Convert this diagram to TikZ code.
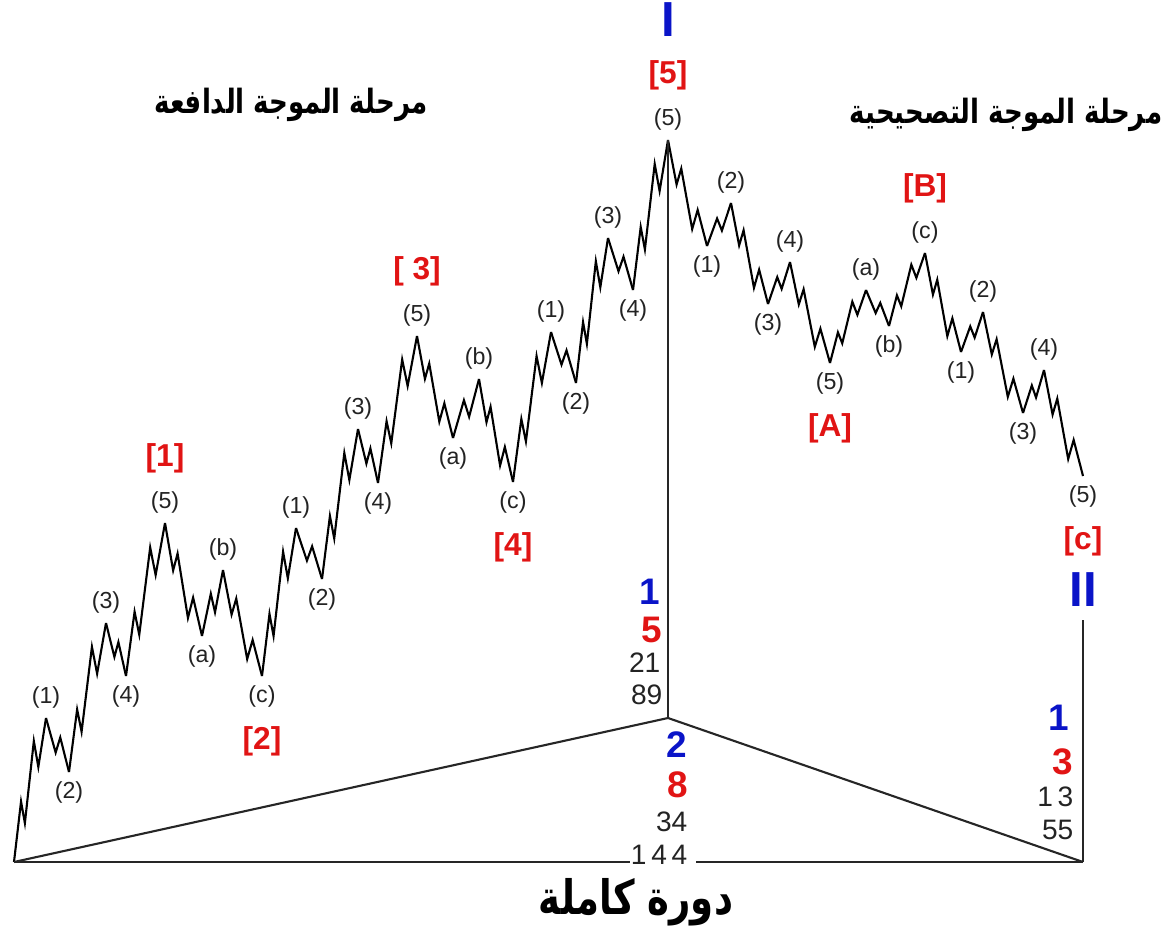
\documentclass[tikz,border=0pt]{standalone}
\usepackage{fontspec}
\setmainfont{Liberation Sans}
\newfontfamily\arabicfont[Script=Arabic,FakeStretch=0.78]{DejaVu Sans}
\TeXXeTstate=1
\usetikzlibrary{positioning,calc}
\definecolor{WaveRed}{RGB}{225,20,20}
\definecolor{WaveBlue}{RGB}{10,20,200}
\definecolor{WaveGray}{RGB}{35,35,35}
\tikzset{>=latex}
\tikzset{mysub/.style={inner sep=0.5pt,text=WaveGray,font=\fontsize{6.6}{8}\selectfont}}
\tikzset{mymain/.style={inner sep=0.5pt,text=WaveRed,font=\fontsize{9}{11}\selectfont\bfseries}}
\tikzset{mydegree/.style={inner sep=0pt,text=WaveBlue,font=\fontsize{14}{16}\selectfont\bfseries}}
\tikzset{myfib/.style={inner sep=0pt,anchor=east,text=WaveGray,font=\fontsize{8}{9}\selectfont}}
\tikzset{myfibred/.style={myfib,text=WaveRed,font=\fontsize{10.5}{12}\selectfont\bfseries}}
\tikzset{myfibblue/.style={myfib,text=WaveBlue,font=\fontsize{10.5}{12}\selectfont\bfseries}}
\tikzset{mywave/.style={line width=0.6pt,line join=miter}}
\tikzset{mylines/.style={line width=0.6pt,draw=black!85}}
\tikzset{mytitle/.style={inner sep=0pt,font=\arabicfont\bfseries\fontsize{9.5}{11}\selectfont}}

\begin{document}
\begin{tikzpicture}[x=0.01cm,y=-0.01cm]
    \useasboundingbox (0,0) rectangle (1170,943);

    % turning points of the wave
    \foreach \n/\x/\y in {
        a0/14/862, a1/46/718, a2/69/772, a3/106/623, a4/126/676, a5/165/523,
        b1/202/636, b2/223/570, b3/262/676,
        c1/296/528, c2/322/579, c3/358/429, c4/378/483, c5/417/336,
        d1/453/438, d2/479/379, d3/513/482,
        e1/551/332, e2/576/383, e3/608/238, e4/633/290, e5/668/140,
        f1/707/246, f2/731/203, f3/768/304, f4/790/262, f5/830/363,
        g1/866/290, g2/889/326, g3/925/253,
        h1/961/352, h2/983/312, h3/1023/413, h4/1044/370, h5/1083/476,
        m/668/718, r/1083/862, rt/1083/620, gl/630/862, gr/696/862} {
        \coordinate (\n) at (\x,\y);
    }

    % five small waves
    \foreach \i/\j in {a0/a1, a2/a3, a4/a5, a5/b1, b2/b3, b3/c1, c2/c3, c4/c5,
                       c5/d1, d2/d3, d3/e1, e2/e3, e4/e5, e5/f1, f2/f3, f4/f5,
                       f5/g1, g2/g3, g3/h1, h2/h3, h4/h5} {
        \draw[mywave] let \p1=(\i), \p2=(\j) in
            (\p1) -- ({\x1+0.22*(\x2-\x1)},{\y1+0.42*(\y2-\y1)})
                  -- ({\x1+0.34*(\x2-\x1)},{\y1+0.27*(\y2-\y1)})
                  -- ({\x1+0.62*(\x2-\x1)},{\y1+0.84*(\y2-\y1)})
                  -- ({\x1+0.76*(\x2-\x1)},{\y1+0.66*(\y2-\y1)})
                  -- (\p2);
    }
    % three small waves
    \foreach \i/\j in {a1/a2, a3/a4, b1/b2, c1/c2, c3/c4, d1/d2, e1/e2, e3/e4,
                       f1/f2, f3/f4, g1/g2, h1/h2, h3/h4} {
        \draw[mywave] let \p1=(\i), \p2=(\j) in
            (\p1) -- ({\x1+0.42*(\x2-\x1)},{\y1+0.64*(\y2-\y1)})
                  -- ({\x1+0.62*(\x2-\x1)},{\y1+0.36*(\y2-\y1)})
                  -- (\p2);
    }

    % cycle lines
    \draw[mylines] (a0) -- (m) -- (r);
    \draw[mylines] (e5) -- (m);
    \draw[mylines] (rt) -- (r);
    \draw[mylines] (a0) -- (gl);
    \draw[mylines] (gr) -- (r);

    % small labels
    \foreach \n/\p/\t in {
        a1/above/1, a2/below/2, a3/above/3, a4/below/4, a5/above/5,
        b1/below/a, b2/above/b, b3/below/c,
        c1/above/1, c2/below/2, c3/above/3, c4/below/4, c5/above/5,
        d1/below/a, d2/above/b, d3/below/c,
        e1/above/1, e2/below/2, e3/above/3, e4/below/4, e5/above/5,
        f1/below/1, f2/above/2, f3/below/3, f4/above/4, f5/below/5,
        g1/above/a, g2/below/b, g3/above/c,
        h1/below/1, h2/above/2, h3/below/3, h4/above/4, h5/below/5} {
        \node[mysub,\p=2pt of \n] (l\n) {(\t)};
    }

    % main labels
    \node[mymain,above=4pt of la5] (w1) {[1]};
    \node[mymain,below=4pt of lb3] (w2) {[2]};
    \node[mymain,above=4pt of lc5] (w3) {[ 3]};
    \node[mymain,below=4pt of ld3] (w4) {[4]};
    \node[mymain,above=4pt of le5] (w5) {[5]};
    \node[mymain,below=4pt of lf5] (wA) {[A]};
    \node[mymain,above=4pt of lg3] (wB) {[B]};
    \node[mymain,below=4pt of lh5] (wC) {[c]};
    \node[mydegree,above=6pt of w5] (dI) {I};
    \node[mydegree,below=4pt of wC] (dII) {II};

    % counts
    \node[myfibblue] (n1) at (661,592) {1};
    \node[myfibred]  (n5) at (663,630) {5};
    \node[myfib]     (n21) at (661,663) {21};
    \node[myfib]     (n89) at (663,695) {89};
    \node[myfibblue] (n2) at (688,745) {2};
    \node[myfibred]  (n8) at (689,785) {8};
    \node[myfib]     (n34) at (688,822) {34};
    \node[myfib]     (n144) at (688,855) {1\,4\,4};
    \node[myfibblue] (m1) at (1070,718) {1};
    \node[myfibred]  (m3) at (1074,762) {3};
    \node[myfib]     (m13) at (1074,797) {1\,3};
    \node[myfib]     (m55) at (1074,830) {55};

    % titles
    \node[mytitle] (tleft) at (291,105) {\beginR مرحلة الموجة الدافعة\endR};
    \node[mytitle] (tright) at (1006,115) {\beginR مرحلة الموجة التصحيحية\endR};
    \node[mytitle,font=\arabicfont\bfseries\fontsize{13.5}{15}\selectfont] (tcycle) at (636,902) {\beginR دورة كاملة\endR};
\end{tikzpicture}
\end{document}
